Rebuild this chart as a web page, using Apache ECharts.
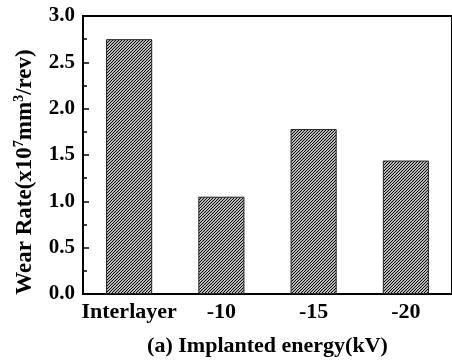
<!DOCTYPE html>
<html>
<head>
<meta charset="utf-8">
<script src="https://cdn.jsdelivr.net/npm/echarts@6/dist/echarts.min.js"></script>
<style>
  html, body { margin: 0; padding: 0; background: #fff; }
  #chart { width: 452px; height: 362px; }
</style>
</head>
<body>
<div id="chart"></div>
<script>
// Wear rate for each implantation energy
const categories = ['Interlayer', '-10', '-15', '-20'];
const wearRate = [2.75, 1.05, 1.78, 1.44];
const yTicks = { min: 0, max: 3, step: 0.5 };

const FONT = '"Liberation Serif", "Times New Roman", serif';

// Diagonal hatch used to fill the bars
function hatchPattern() {
  const c = document.createElement('canvas');
  const s = 3;
  c.width = s; c.height = s;
  const g = c.getContext('2d');
  g.fillStyle = '#ffffff';
  g.fillRect(0, 0, s, s);
  g.strokeStyle = '#000000';
  g.lineWidth = 1.1;
  g.beginPath();
  g.moveTo(-1, s + 1); g.lineTo(s + 1, -1);
  g.moveTo(-1, 1); g.lineTo(1, -1);
  g.moveTo(s - 1, s + 1); g.lineTo(s + 1, s - 1);
  g.stroke();
  return c;
}

const chart = echarts.init(document.getElementById('chart'), null, { renderer: 'canvas' });

chart.setOption({
  animation: false,
  backgroundColor: '#ffffff',
  grid: {
    left: 83, top: 16, bottom: 65, right: -3,
    show: true, borderColor: '#000', borderWidth: 2, backgroundColor: 'transparent'
  },
  xAxis: {
    type: 'category',
    data: categories,
    boundaryGap: true,
    name: '(a) Implanted energy(kV)',
    nameLocation: 'middle',
    nameGap: 41,
    nameTextStyle: { fontFamily: FONT, fontWeight: 'bold', fontSize: 22, color: '#000' },
    axisLine: { lineStyle: { color: '#000', width: 2 } },
    axisTick: { inside: true, alignWithLabel: true, length: 5, lineStyle: { color: '#000', width: 1.5 } },
    axisLabel: { interval: 0, fontFamily: FONT, fontWeight: 'bold', fontSize: 22, color: '#000', margin: 7 },
    splitLine: { show: false }
  },
  yAxis: {
    type: 'value',
    min: yTicks.min,
    max: yTicks.max,
    interval: yTicks.step,
    name: '{a|Wear Rate(x10}{s|7}{a|mm}{s|3}{a|/rev)}',
    nameLocation: 'middle',
    nameRotate: 90,
    nameGap: 45,
    nameTextStyle: {
      padding: [0, 34, 0, 0],
      rich: {
        a: { fontFamily: FONT, fontWeight: 'bold', fontSize: 23, color: '#000', lineHeight: 26 },
        s: { fontFamily: FONT, fontWeight: 'bold', fontSize: 14, color: '#000', verticalAlign: 'top', lineHeight: 26 }
      }
    },
    axisLine: { show: true, lineStyle: { color: '#000', width: 2 } },
    axisTick: { show: true, inside: true, length: 6, lineStyle: { color: '#000', width: 1.5 } },
    minorTick: { show: true, splitNumber: 2, length: 4, lineStyle: { color: '#000', width: 1.5 } },
    axisLabel: {
      fontFamily: FONT, fontWeight: 'bold', fontSize: 21, color: '#000', margin: 8,
      formatter: v => v.toFixed(1)
    },
    splitLine: { show: false }
  },
  series: [{
    type: 'bar',
    data: wearRate,
    barWidth: '50%',
    itemStyle: {
      color: { image: hatchPattern(), repeat: 'repeat' },
      borderColor: '#222',
      borderWidth: 1
    }
  }]
});
</script>
</body>
</html>
